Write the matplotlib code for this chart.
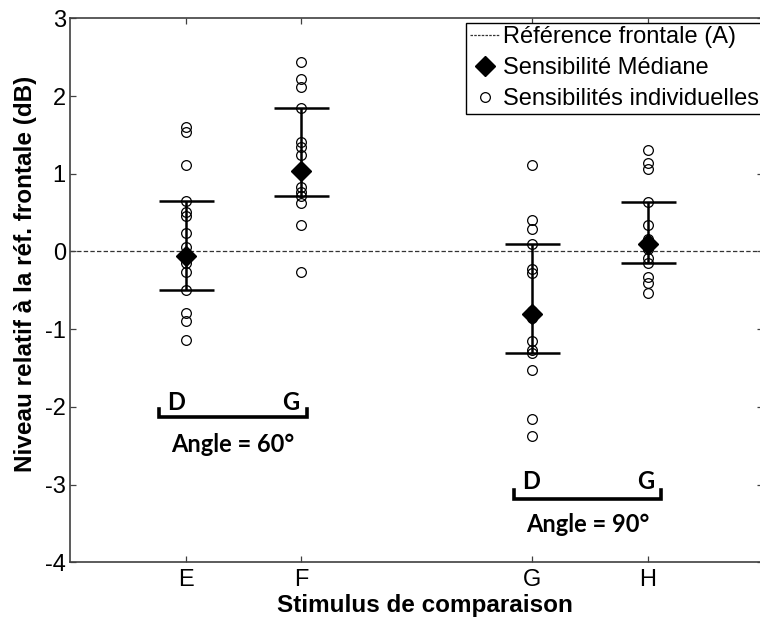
import numpy as np
from matplotlib import pyplot as plt
from matplotlib.lines import Line2D

plt.rcParams['font.family'] = ['Liberation Sans', 'DejaVu Sans']
plt.rcParams['axes.unicode_minus'] = False

# stimulus de comparaison
stimuli = ['E', 'F', 'G', 'H']
x_pos = [1, 2, 4, 5]

# sensibilites individuelles (dB)
vals_E = [1.60, 1.54, 1.11, 0.65, 0.51, 0.46, 0.24, 0.06, -0.06, -0.15, -0.27, -0.50, -0.79, -0.90, -1.14]
vals_F = [2.44, 2.22, 2.12, 1.85, 1.41, 1.35, 1.24, 1.03, 0.83, 0.76, 0.71, 0.62, 0.34, -0.26]
vals_G = [1.11, 0.40, 0.29, 0.10, -0.22, -0.28, -0.76, -0.81, -0.86, -1.15, -1.27, -1.31, -1.53, -2.16, -2.38]
vals_H = [1.30, 1.14, 1.06, 0.64, 0.34, 0.16, 0.09, 0.03, -0.09, -0.15, -0.33, -0.41, -0.54]

# mediane et bornes (quartiles)
medians = [-0.06, 1.03, -0.81, 0.09]
lower = [-0.50, 0.71, -1.31, -0.15]
upper = [0.65, 1.85, 0.10, 0.64]

y_ticks = [-4, -3, -2, -1, 0, 1, 2, 3]

fig = plt.figure(figsize=(7.6, 6.17), dpi=100)
# axe un peu plus large que l'image (bord droit coupe)
ax = fig.add_axes([70/760, 54.7/617, 693/760, 544/617])

ax.axhline(0, color='0.2', lw=0.9, ls=(0, (3.5, 1.8)), zorder=1)

all_vals = [vals_E, vals_F, vals_G, vals_H]
for x, vals in zip(x_pos, all_vals):
    ax.plot(np.full(len(vals), x), vals, 'o', ms=7, mfc='none', mec='k', mew=0.9, zorder=2)

yerr = np.array([np.subtract(medians, lower), np.subtract(upper, medians)])
ax.errorbar(x_pos, medians, yerr=yerr, fmt='none', ecolor='k', elinewidth=1.8,
            capsize=19.8, capthick=1.8, zorder=3)
ax.plot(x_pos, medians, 'D', ms=10, color='k', zorder=4)

# crochets "Angle"
lab_font = dict(family=['Lato', 'DejaVu Sans'], fontweight='bold', fontsize=17)
for (x0, x1, yb, yt, ytxt, ylab, txt) in [(0.77, 2.05, -2.135, -2.03, -1.95, -2.48, 'Angle = 60°'),
                                         (3.84, 5.12, -3.18, -3.07, -2.96, -3.51, 'Angle = 90°')]:
    ax.plot([x0, x0, x1, x1], [yt, yb, yb, yt], color='k', lw=2.6, solid_joinstyle='miter', zorder=3)
    ax.text(x0 + 0.15, ytxt, 'D', ha='center', va='center', **lab_font)
    ax.text(x1 - 0.14, ytxt, 'G', ha='center', va='center', **lab_font)
    ax.text((x0 + x1) / 2, ylab, txt, ha='center', va='center', **lab_font)

ax.set_xlim(0, 6)
ax.set_ylim(-4, 3)
ax.set_xticks(x_pos)
ax.set_xticklabels(stimuli)
ax.set_yticks(y_ticks)
ax.tick_params(direction='in', length=4, width=0.9, color='0.25', labelsize=17,
               top=True, right=True)
ax.tick_params(axis='x', pad=5)
ax.tick_params(axis='y', pad=3)
for s in ax.spines.values():
    s.set_color('0.25')
    s.set_linewidth(1.2)

ax.set_xlabel('Stimulus de comparaison', fontsize=17.5, fontweight='bold')
ax.xaxis.set_label_coords(0.512, -0.058)
ax.set_ylabel('Niveau relatif à la réf. frontale (dB)', fontsize=17.5, fontweight='bold')
ax.yaxis.set_label_coords(-0.047, 0.53)

handles = [Line2D([], [], color='0.2', lw=0.9, ls=(0, (2, 1))),
           Line2D([], [], marker='D', ls='none', ms=10, color='k'),
           Line2D([], [], marker='o', ls='none', ms=7, mfc='none', mec='k', mew=0.9)]
labels = ['Référence frontale (A)', 'Sensibilité Médiane', 'Sensibilités individuelles']
leg = fig.legend(handles, labels, loc='upper left', bbox_to_anchor=(466/760, 1 - 22.7/617),
                 borderaxespad=0, fontsize=17, frameon=True, fancybox=False,
                 edgecolor='k', framealpha=1, handlelength=1.3, handletextpad=0.1,
                 labelspacing=0.38, borderpad=0.15)
leg.get_frame().set_linewidth(1.0)

plt.savefig('out.png', dpi=100)
